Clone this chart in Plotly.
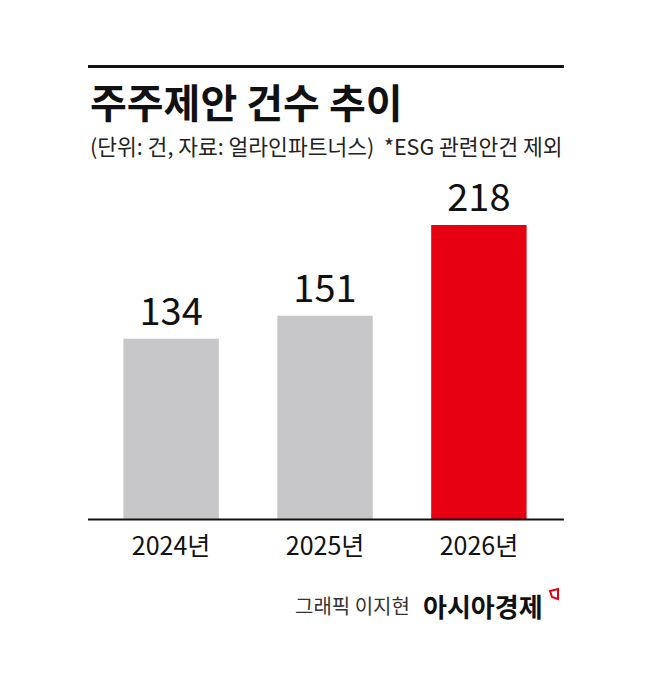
import plotly.graph_objects as go

categories = ["2024년", "2025년", "2026년"]
values = [134, 151, 218]
bar_colors = ["#c7c7c9", "#c7c7c9", "#e60012"]

title_text = "주주제안 건수 추이"
subtitle_text = "(단위: 건, 자료: 얼라인파트너스)  *ESG 관련안건 제외"
credit_text = "그래픽 이지현"
brand_text = "아시아경제"

W, H = 650, 686
L, R, T, B = 88, 88, 180, 166
ph = H - T - B
pw = W - L - R

def py(y):
    return (H - B - y) / ph

def px(x):
    return (x - L) / pw

FONT = "Noto Sans CJK KR, Noto Sans, sans-serif"

fig = go.Figure(go.Bar(
    x=categories, y=values,
    marker=dict(color=bar_colors, line=dict(width=0)),
    width=0.62,
    text=[str(v) for v in values],
    textposition="outside",
    textfont=dict(size=38, color="#111", family=FONT),
    cliponaxis=False,
))

icon_path = (f"M {px(550)} {py(591)} L {px(558)} {py(589)} L {px(558)} {py(599)} "
             f"L {px(552)} {py(597)} Z")

fig.update_layout(
    width=W, height=H,
    margin=dict(l=L, r=R, t=T, b=B),
    paper_bgcolor="white", plot_bgcolor="white",
    showlegend=False,
    font=dict(family=FONT),
    xaxis=dict(range=[-0.54, 2.54], showgrid=False, zeroline=False,
               showline=False, ticks="", ticklabelstandoff=9,
               tickfont=dict(size=25, color="#111", family=FONT)),
    yaxis=dict(range=[0, 251.3], visible=False),
    shapes=[
        dict(type="line", xref="paper", yref="paper", x0=0, x1=1.004,
             y0=py(66.5), y1=py(66.5), line=dict(color="#111", width=3)),
        dict(type="line", xref="paper", yref="paper", x0=0, x1=1.004,
             y0=py(519.5), y1=py(519.5), line=dict(color="#111", width=2)),
        dict(type="path", xref="paper", yref="paper", path=icon_path,
             fillcolor="white", line=dict(color="#e60012", width=2)),
    ],
    annotations=[
        dict(text=f"<b>{title_text}</b>", xref="paper", yref="paper", x=0, y=py(101),
             xanchor="left", yanchor="middle", showarrow=False,
             font=dict(size=40, color="#111", family=FONT)),
        dict(text=subtitle_text, xref="paper", yref="paper", x=0, y=py(146),
             xanchor="left", yanchor="middle", showarrow=False,
             font=dict(size=21.5, color="#222", family=FONT)),
        dict(text=credit_text, xref="paper", yref="paper", x=px(412), y=py(605),
             xanchor="right", yanchor="middle", showarrow=False,
             font=dict(size=20, color="#333", family=FONT)),
        dict(text=f"<b>{brand_text}</b>", xref="paper", yref="paper", x=px(421), y=py(605),
             xanchor="left", yanchor="middle", showarrow=False,
             font=dict(size=26, color="#111", family=FONT)),
    ],
)

fig.write_html("out.html")
